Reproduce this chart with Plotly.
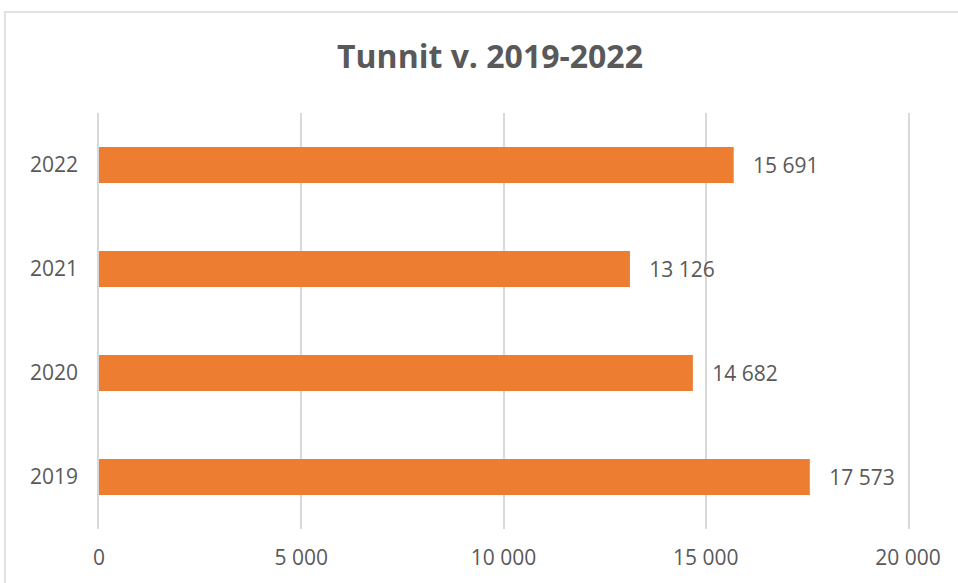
import plotly.graph_objects as go

years = ["2019", "2020", "2021", "2022"]
hours = [17573, 14682, 13126, 15691]
x_ticks = [0, 5000, 10000, 15000, 20000]
title_text = "Tunnit v. 2019-2022"

def fmt(v):
    return f"{v:,}".replace(",", " ")

fig = go.Figure()
fig.add_trace(go.Bar(
    y=years, x=hours, orientation="h",
    marker=dict(color="#ED7D31", line=dict(width=0)),
    text=["\u00a0\u00a0\u00a0" + fmt(v) for v in hours],
    textposition="outside", cliponaxis=False,
    textfont=dict(family="Open Sans", size=21, color="#595959"),
    hoverinfo="skip",
))

fig.update_layout(
    width=958, height=583,
    margin=dict(l=99, r=50, t=113, b=54),
    paper_bgcolor="white", plot_bgcolor="white",
    bargap=0.654,
    showlegend=False,
    separators=", ",
    title=dict(text=title_text, x=490/958, xref="container", xanchor="center",
               y=1-57/583, yref="container", yanchor="middle",
               font=dict(family="Open Sans", size=32, color="#595959", weight="bold")),
    xaxis=dict(range=[0, 20000], tickvals=x_ticks, ticktext=[fmt(t) for t in x_ticks],
               showgrid=True, gridcolor="#D9D9D9", gridwidth=1.5, zeroline=False,
               showline=False, ticks="", ticklabelstandoff=14,
               tickfont=dict(family="Open Sans", size=21, color="#595959")),
    yaxis=dict(type="category", categoryorder="array", categoryarray=years, range=[-0.5, 3.5],
               showgrid=False, zeroline=False, showline=True, mirror=True,
               linecolor="#D9D9D9", linewidth=1.5, ticks="",
               ticklabelstandoff=15,
               tickfont=dict(family="Open Sans", size=21, color="#595959")),
    shapes=[dict(type="rect", xref="paper", yref="paper",
                 x0=(5-99)/809, x1=(975-99)/809, y0=(529-595)/416, y1=(529-12)/416,
                 line=dict(color="#D9D9D9", width=1.5), fillcolor="rgba(0,0,0,0)",
                 layer="below")],
)

fig.write_html("out.html", config={"displayModeBar": False},
               post_script="document.body.style.margin='0px';")
